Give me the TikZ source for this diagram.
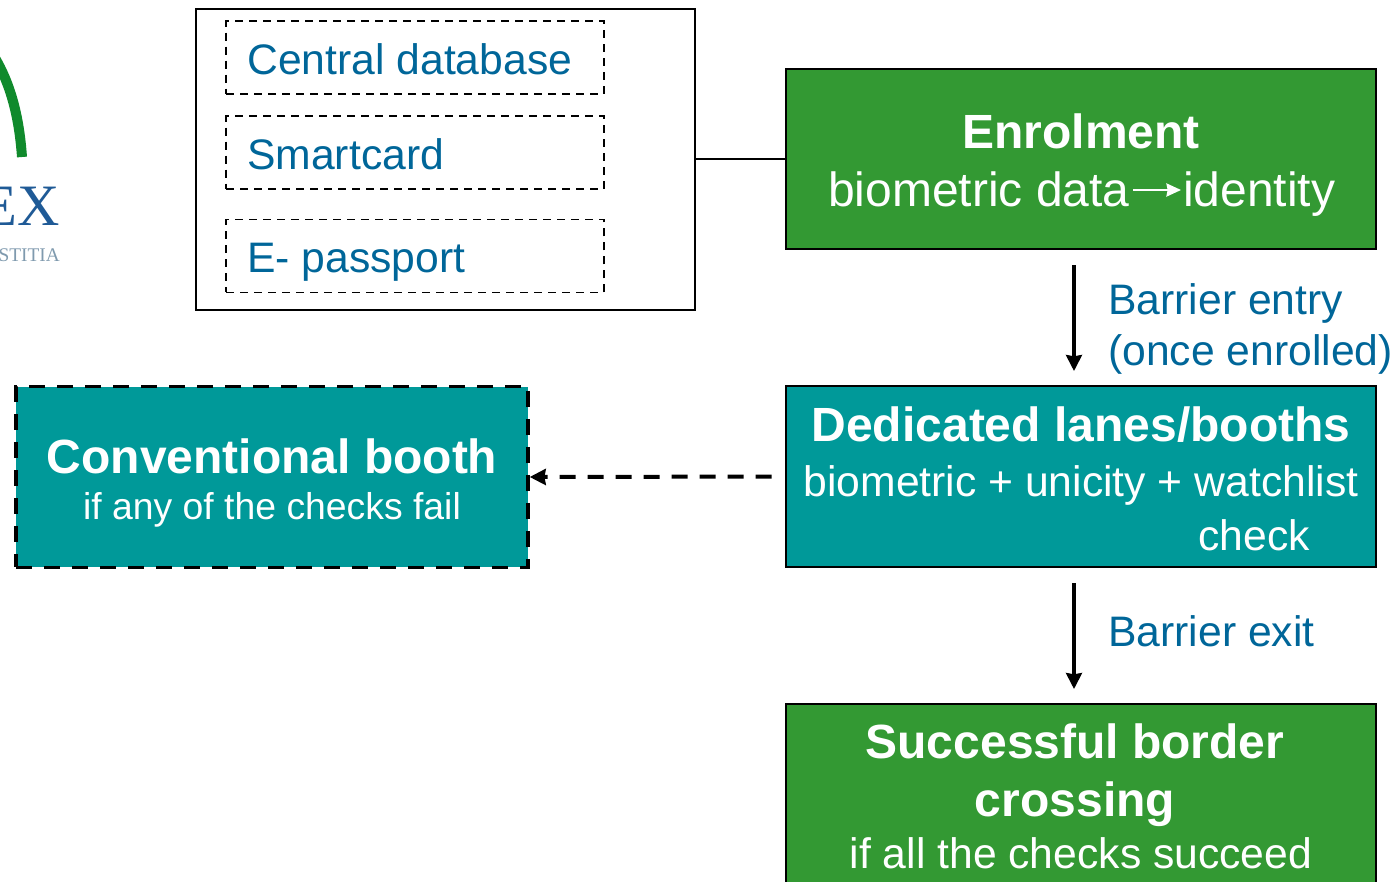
\documentclass[tikz,border=0pt]{standalone}
\usepackage{fontspec}
\setmainfont{Liberation Sans}
\newfontfamily\logofont{Liberation Serif}
\usetikzlibrary{arrows.meta}
\definecolor{boxgreen}{HTML}{339933}
\definecolor{boxteal}{HTML}{009999}
\definecolor{labelblue}{HTML}{006699}
\definecolor{logogreen}{HTML}{108A2C}
\definecolor{logoblue}{HTML}{1F5A96}
\definecolor{logogray}{HTML}{7F9AAE}
\begin{document}
\begin{tikzpicture}[x=0.75pt, y=-0.75pt,
  greenbox/.style={rectangle, draw, line width=1.4pt, fill=boxgreen, minimum width=442.5pt, inner sep=0pt},
  tealbox/.style={rectangle, draw, line width=1.4pt, fill=boxteal, minimum width=442.5pt, minimum height=135.5pt, inner sep=0pt},
  itembox/.style={rectangle, draw, dash pattern=on 6pt off 4.5pt, line width=1.2pt, minimum width=283.5pt, minimum height=54.5pt},
  boxtitle/.style={text=white, font=\fontsize{36}{36}\selectfont\bfseries},
  boxtext/.style={text=white, font=\fontsize{32}{32}\selectfont},
  bigtext/.style={text=white, font=\fontsize{36}{36}\selectfont, anchor=base west, inner sep=0pt},
  smalltext/.style={text=white, font=\fontsize{28}{28}\selectfont},
  itemtext/.style={text=labelblue, font=\fontsize{32}{32}\selectfont, anchor=base west, inner sep=0pt},
  steplabel/.style={text=labelblue, font=\fontsize{32}{32}\selectfont, anchor=base west, inner sep=0pt},
  steparrow/.style={-{Stealth[length=12pt,width=12pt,inset=1pt]}, line width=2.3pt}]
\useasboundingbox (0,0) rectangle (1397,882);
% logo
\draw[logogreen, line width=7.5pt] (-10,50) .. controls (10,80) and (19,115) .. (22,157);
\node[text=logoblue, font=\logofont\fontsize{44}{44}\selectfont, anchor=base east, inner sep=0pt] (logoname) at (60,225) {EX};
\node[text=logogray, font=\logofont\fontsize{14.5}{14.5}\selectfont, anchor=base east, inner sep=0pt] (logomotto) at (60,261) {STITIA};
% storage
\node[rectangle, draw, line width=1.5pt, minimum width=374pt, minimum height=226pt] (store) at (445.5,159.5) {};
\node[itembox] (db) at (415,57.5) {};
\node[itembox] (card) at (415,152.5) {};
\node[itembox] (pass) at (415,256) {};
\node[itemtext] (dbtext) at (247,74) {Central database};
\node[itemtext] (cardtext) at (247,169) {Smartcard};
\node[itemtext] (passtext) at (247,272) {E- passport};
% boxes
\node[greenbox, minimum height=135.5pt] (enrol) at (1081,159) {};
\node[boxtitle] (enroltitle) at (1081,131) {Enrolment};
\node[bigtext] (enrolleft) at (828,206) {biometric data};
\node[bigtext] (enrolright) at (1183,206) {identity};
\node[tealbox] (lanes) at (1081,476.5) {};
\node[boxtitle] (lanestitle) at (1081,425) {Dedicated lanes/booths};
\node[boxtext] (lanestext) at (1081,485) {biometric + unicity + watchlist};
\node[boxtext] (lanescheck) at (1254,535) {check};
\node[tealbox, dash pattern=on 12pt off 9pt, line width=2.6pt, minimum width=384pt] (conv) at (272,477) {};
\node[boxtitle] (convtitle) at (272,456) {Conventional booth};
\node[smalltext] (convtext) at (272,510) {if any of the checks fail};
\node[greenbox, minimum height=180pt] (cross) at (1081,824) {};
\node[boxtitle] (crosstitle) at (1075,741) {Successful border};
\node[boxtitle] (crosstitleb) at (1075,804) {crossing};
\node[boxtext] (crosstext) at (1081,853) {if all the checks succeed};
% labels
\node[steplabel] (entrya) at (1108,314) {Barrier entry};
\node[steplabel] (entryb) at (1108,365) {(once enrolled)};
\node[steplabel] (exit) at (1108,646) {Barrier exit};
% connectors
\coordinate (entrystart) at (1074,265);
\coordinate (entryend) at (1074,371);
\coordinate (exitstart) at (1074,583);
\coordinate (exitend) at (1074,689);
\coordinate (datastart) at (1133,190);
\coordinate (dataend) at (1181,190);
\draw[line width=1.6pt] (enrol.west) -- (enrol.west -| store.east);
\draw[steparrow] (entrystart) -- (entryend);
\draw[steparrow] (exitstart) -- (exitend);
\draw[steparrow, dash pattern=on 12pt off 9pt, line width=3pt, shorten <=10pt] (lanes.west) -- (conv.east);
\draw[-{Stealth[length=11pt,width=10pt,inset=1pt]}, white, line width=1pt] (datastart) -- (dataend);
\end{tikzpicture}
\end{document}
